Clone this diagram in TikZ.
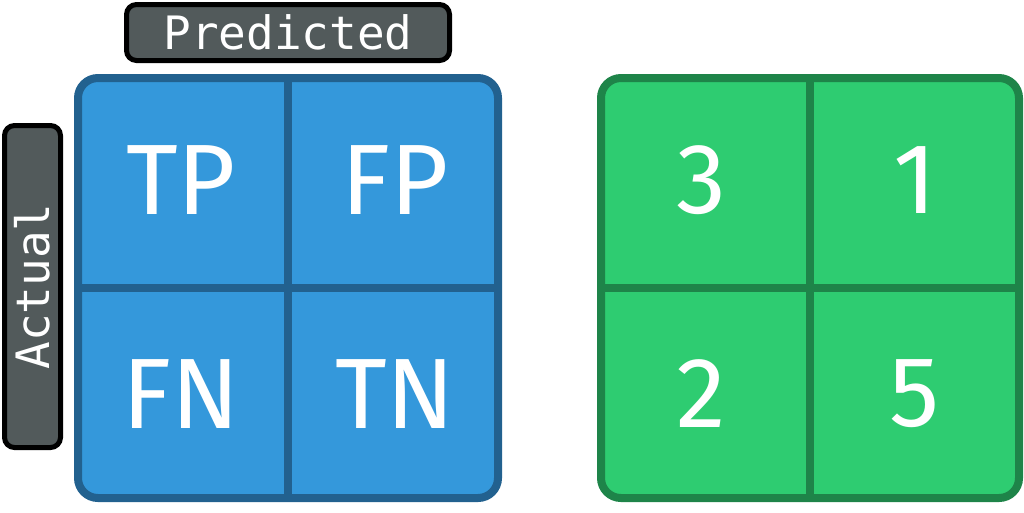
\documentclass[tikz,border=0pt]{standalone}
\usepackage{fontspec}
\setmainfont{Fira Sans}
\setmonofont{DejaVu Sans Mono}
\definecolor{bluefill}{HTML}{3498DB}
\definecolor{blueline}{HTML}{22618F}
\definecolor{greenfill}{HTML}{2ECC71}
\definecolor{greenline}{HTML}{1E8449}
\definecolor{tagfill}{HTML}{525A5B}
\tikzset{
  tagbox/.style={draw=black, fill=tagfill, line width=5pt, rounded corners=10pt,
    text=white, font=\ttfamily\fontsize{46}{50}\selectfont, inner sep=0pt},
  cell/.style={text=white, font=\fontsize{100}{110}\selectfont, inner sep=0pt}
}
\begin{document}
\begin{tikzpicture}[x=1pt,y=-1pt]
        \useasboundingbox (0,0) rectangle (1024,512);
        % axis tags
        \node[tagbox, minimum width=323pt, minimum height=56pt] (pred) at (288,32.5) {Predicted};
        \node[tagbox, rotate=90, minimum width=322pt, minimum height=56pt] (act) at (32.5,286.5) {Actual};
        % blue matrix
        \draw[line width=8pt, draw=blueline, fill=bluefill, rounded corners=20pt]
            (78,78) rectangle (498,498);
        \draw[line width=8pt, blueline] (288,78) -- (288,498);
        \draw[line width=8pt, blueline] (78,288) -- (498,288);
        % green matrix
        \draw[line width=8pt, draw=greenline, fill=greenfill, rounded corners=20pt]
            (601,78) rectangle (1019,498);
        \draw[line width=8pt, greenline] (810,78) -- (810,498);
        \draw[line width=8pt, greenline] (601,288) -- (1019,288);
        % cell labels
        \foreach \name/\txt/\x/\y in {tp/TP/181/180, fp/FP/395/180, fn/FN/181/394, tn/TN/395/394,
                                     ntp/3/701/180, nfp/1/915/180, nfn/2/701/394, ntn/5/915/394}
        {
            \node[cell] (\name) at (\x,\y) {\txt};
        }
\end{tikzpicture}
\end{document}
